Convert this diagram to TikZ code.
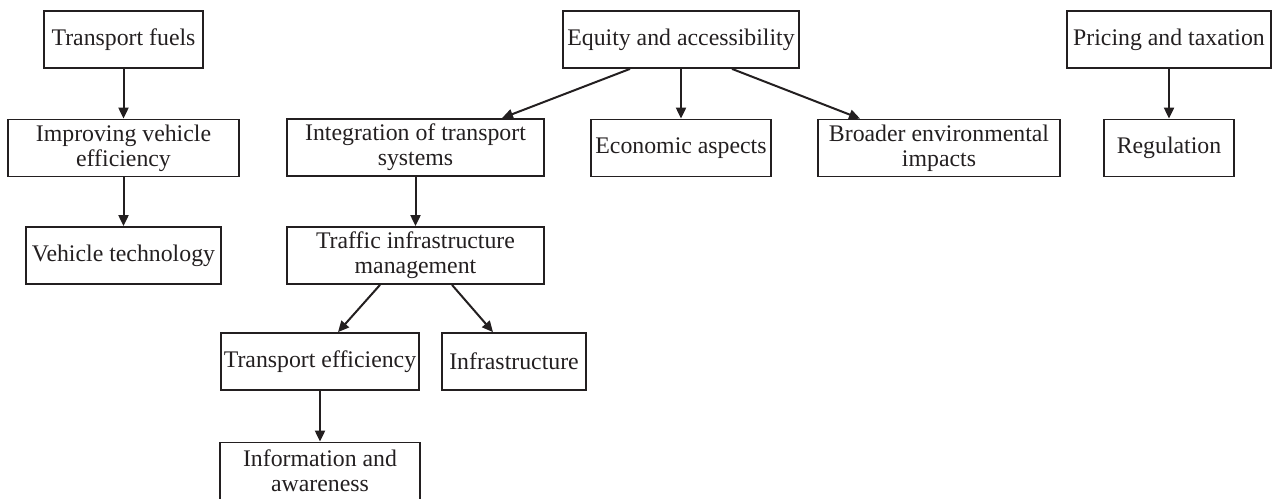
\documentclass[tikz,border=0pt]{standalone}
\usepackage{fontspec}
\setmainfont{Liberation Serif}
\usetikzlibrary{arrows.meta}
\definecolor{ink}{RGB}{35,31,32}
\begin{document}
\begin{tikzpicture}[x=1pt,y=-1pt,
  box/.style={draw=ink, line width=1.8pt, minimum width=#1, minimum height=57pt,
    inner sep=0pt, align=center, text=ink,
    font=\fontsize{23.8}{25}\selectfont},
  link/.style={draw=ink, line width=2pt, -{Triangle[length=11pt,width=10pt]}}]
\useasboundingbox (0,0) rectangle (1274,498);

% left column
\node[box=159pt] (fuels)   at (123.5,39.5) {Transport fuels};
\node[box=231pt] (improve) at (123.5,148)  {Improving vehicle\\efficiency};
\node[box=195pt] (vtech)   at (123.5,255.5){Vehicle technology};

% centre tree
\node[box=236pt] (equity)  at (681,39.5)   {Equity and accessibility};
\node[box=257pt] (integr)  at (415.5,147.5){Integration of transport\\systems};
\node[box=180pt] (econ)    at (681,148)    {Economic aspects};
\node[box=242pt] (broad)   at (939,148)    {Broader environmental\\impacts};
\node[box=257pt] (traffic) at (415.5,255.5){Traffic infrastructure\\management};
\node[box=198pt] (teff)    at (320,361.5)  {Transport efficiency};
\node[box=144pt] (infra)   at (514,361.5)  {Infrastructure};
\node[box=200pt] (info)    at (320,471)    {Information and\\awareness};

% right column
\node[box=204pt] (pricing) at (1169,39.5)  {Pricing and taxation};
\node[box=130pt] (regul)   at (1169,148)   {Regulation};

% connectors
\draw[link] (fuels) -- (improve);
\draw[link] (improve) -- (vtech);
\draw[link] ([xshift=-51pt]equity.south) -- ([xshift=86.5pt]integr.north);
\draw[link] (equity) -- (econ);
\draw[link] ([xshift=51pt]equity.south) -- ([xshift=-79pt]broad.north);
\draw[link] (integr) -- (traffic);
\draw[link] ([xshift=-35.5pt]traffic.south) -- ([xshift=18pt]teff.north);
\draw[link] ([xshift=36.5pt]traffic.south) -- ([xshift=-21pt]infra.north);
\draw[link] (teff) -- (info);
\draw[link] (pricing) -- (regul);
\end{tikzpicture}
\end{document}
